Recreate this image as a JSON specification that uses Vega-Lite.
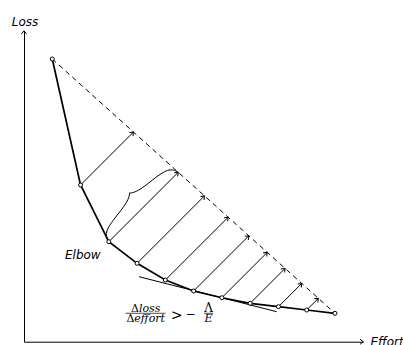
{
  "$schema": "https://vega.github.io/schema/vega-lite/v6.json",
  "width": 339.24,
  "height": 310.97,
  "autosize": {"type": "none"},
  "padding": {"left": 24, "top": 30.73, "right": 39.76, "bottom": 3.3},
  "background": "white",
  "config": {"view": {"stroke": null}},
  "datasets": {
    "curve": [
      {"effort": 1, "loss": 10},
      {"effort": 2, "loss": 5.543},
      {"effort": 3, "loss": 3.537},
      {"effort": 4, "loss": 2.773},
      {"effort": 5, "loss": 2.182},
      {"effort": 6, "loss": 1.793},
      {"effort": 7, "loss": 1.556},
      {"effort": 8, "loss": 1.358},
      {"effort": 9, "loss": 1.238},
      {"effort": 10, "loss": 1.121},
      {"effort": 11, "loss": 1.005}
    ],
    "arrows": [
      {"effort": 2, "loss": 5.543, "tipEffort": 3.872, "tipLoss": 7.415},
      {"effort": 3, "loss": 3.537, "tipEffort": 5.454, "tipLoss": 5.991},
      {"effort": 4, "loss": 2.773, "tipEffort": 6.383, "tipLoss": 5.156},
      {"effort": 5, "loss": 2.182, "tipEffort": 7.22, "tipLoss": 4.402},
      {"effort": 6, "loss": 1.793, "tipEffort": 7.951, "tipLoss": 3.744},
      {"effort": 7, "loss": 1.556, "tipEffort": 8.602, "tipLoss": 3.158},
      {"effort": 8, "loss": 1.358, "tipEffort": 9.233, "tipLoss": 2.591},
      {"effort": 9, "loss": 1.238, "tipEffort": 9.822, "tipLoss": 2.06},
      {"effort": 10, "loss": 1.121, "tipEffort": 10.41, "tipLoss": 1.531}
    ],
    "chord": [{"effort": 1, "loss": 10, "effort2": 11, "loss2": 1.005}],
    "tangent": [{"effort": 4.068, "loss": 2.299, "effort2": 8.939, "loss2": 1.061}],
    "brace": [
      {"half": "a", "i": 1, "effort": 3.0, "loss": 3.537},
      {"half": "a", "i": 2, "effort": 2.93, "loss": 3.667},
      {"half": "a", "i": 3, "effort": 2.9125, "loss": 3.8246},
      {"half": "a", "i": 4, "effort": 2.975, "loss": 4.0122},
      {"half": "a", "i": 5, "effort": 3.15, "loss": 4.2874},
      {"half": "a", "i": 6, "effort": 3.4127, "loss": 4.6251},
      {"half": "a", "i": 7, "effort": 3.5803, "loss": 4.8577},
      {"half": "a", "i": 8, "effort": 3.6703, "loss": 5.0178},
      {"half": "a", "i": 9, "effort": 3.7179, "loss": 5.1453},
      {"half": "a", "i": 10, "effort": 3.7329, "loss": 5.2204},
      {"half": "a", "i": 11, "effort": 3.7266, "loss": 5.2642},
      {"half": "b", "i": 11, "effort": 3.7266, "loss": 5.2642},
      {"half": "b", "i": 12, "effort": 3.7704, "loss": 5.2579},
      {"half": "b", "i": 13, "effort": 3.8454, "loss": 5.2729},
      {"half": "b", "i": 14, "effort": 3.973, "loss": 5.3204},
      {"half": "b", "i": 15, "effort": 4.1331, "loss": 5.4105},
      {"half": "b", "i": 16, "effort": 4.3657, "loss": 5.5781},
      {"half": "b", "i": 17, "effort": 4.7034, "loss": 5.8407},
      {"half": "b", "i": 18, "effort": 4.9785, "loss": 6.0158},
      {"half": "b", "i": 19, "effort": 5.1661, "loss": 6.0783},
      {"half": "b", "i": 20, "effort": 5.3237, "loss": 6.0608},
      {"half": "b", "i": 21, "effort": 5.454, "loss": 5.991}
    ],
    "axisEndX": [{"effort": 12, "loss": 0}],
    "axisEndY": [{"effort": 0, "loss": 11}],
    "elbow": [{"effort": 1.45, "loss": 2.915, "label": "Elbow"}],
    "deltas": [
      {"effort": 4.066, "loss": 1.068, "label": "Δ"},
      {"effort": 3.903, "loss": 0.7145, "label": "Δ"}
    ],
    "words": [
      {"effort": 4.066, "loss": 1.068, "label": "loss"},
      {"effort": 3.903, "loss": 0.7145, "label": "effort"}
    ],
    "relation": [
      {"effort": 5.394, "loss": 0.785, "label": ">"}
    ],
    "upright": [
      {"effort": 5.89, "loss": 0.856, "label": "−"},
      {"effort": 6.526, "loss": 1.068, "label": "Λ"}
    ],
    "italicE": [{"effort": 6.526, "loss": 0.7145, "label": "E"}],
    "bars": [
      {"effort": 3.59, "loss": 1.005, "effort2": 5.005},
      {"effort": 6.367, "loss": 1.005, "effort2": 6.686}
    ]
  },
  "encoding": {
    "x": {
      "field": "effort",
      "type": "quantitative",
      "scale": {"domain": [0, 12], "nice": false, "zero": false},
      "axis": {
        "title": "Effort",
        "ticks": false,
        "labels": false,
        "grid": false,
        "domainColor": "black",
        "domainWidth": 1,
        "titleX": 346,
        "titleY": 4,
        "titleAlign": "left",
        "titleBaseline": "alphabetic",
        "titleAngle": 0,
        "titleFont": "DejaVu Sans",
        "titleFontStyle": "italic",
        "titleFontWeight": "normal",
        "titleFontSize": 12,
        "titleColor": "black"
      }
    },
    "y": {
      "field": "loss",
      "type": "quantitative",
      "scale": {"domain": [0, 11], "nice": false, "zero": false},
      "axis": {
        "title": "Loss",
        "ticks": false,
        "labels": false,
        "grid": false,
        "domainColor": "black",
        "domainWidth": 1,
        "titleX": 0.5,
        "titleY": -5.7,
        "titleAlign": "center",
        "titleBaseline": "alphabetic",
        "titleAngle": 0,
        "titleFont": "DejaVu Sans",
        "titleFontStyle": "italic",
        "titleFontWeight": "normal",
        "titleFontSize": 12,
        "titleColor": "black"
      }
    }
  },
  "layer": [
    {
      "data": {"name": "chord"},
      "mark": {"type": "rule", "color": "black", "strokeWidth": 1, "strokeDash": [5, 4]},
      "encoding": {"x2": {"field": "effort2"}, "y2": {"field": "loss2"}}
    },
    {
      "data": {"name": "tangent"},
      "mark": {"type": "rule", "color": "black", "strokeWidth": 1},
      "encoding": {"x2": {"field": "effort2"}, "y2": {"field": "loss2"}}
    },
    {
      "data": {"name": "arrows"},
      "mark": {"type": "rule", "color": "black", "strokeWidth": 1},
      "encoding": {"x2": {"field": "tipEffort"}, "y2": {"field": "tipLoss"}}
    },
    {
      "data": {"name": "arrows"},
      "mark": {"type": "point", "shape": "M-1,-0.8L0,0L-1,0.8", "filled": false, "color": "black", "strokeWidth": 1, "size": 40, "angle": -45, "opacity": 1},
      "encoding": {
        "x": {"field": "tipEffort", "type": "quantitative", "scale": {"domain": [0, 12], "nice": false, "zero": false}},
        "y": {"field": "tipLoss", "type": "quantitative", "scale": {"domain": [0, 11], "nice": false, "zero": false}}
      }
    },
    {
      "data": {"name": "axisEndX"},
      "mark": {"type": "point", "shape": "M-1,-0.8L0,0L-1,0.8", "filled": false, "color": "black", "strokeWidth": 1, "size": 40, "angle": 0, "opacity": 1}
    },
    {
      "data": {"name": "axisEndY"},
      "mark": {"type": "point", "shape": "M-1,-0.8L0,0L-1,0.8", "filled": false, "color": "black", "strokeWidth": 1, "size": 40, "angle": -90, "opacity": 1}
    },
    {
      "data": {"name": "brace"},
      "mark": {"type": "line", "color": "black", "strokeWidth": 1, "interpolate": "catmull-rom"},
      "encoding": {"order": {"field": "i", "type": "quantitative"}, "detail": {"field": "half"}}
    },
    {
      "data": {"name": "curve"},
      "mark": {"type": "line", "color": "black", "strokeWidth": 1.7}
    },
    {
      "data": {"name": "curve"},
      "mark": {"type": "point", "filled": true, "fill": "white", "stroke": "black", "strokeWidth": 1, "size": 16, "opacity": 1}
    },
    {
      "data": {"name": "elbow"},
      "mark": {"type": "text", "align": "left", "baseline": "alphabetic", "font": "DejaVu Sans", "fontStyle": "italic", "fontSize": 12, "color": "black"},
      "encoding": {"text": {"field": "label"}}
    },
    {
      "data": {"name": "bars"},
      "mark": {"type": "rule", "color": "black", "strokeWidth": 0.7},
      "encoding": {"x2": {"field": "effort2"}}
    },
    {
      "data": {"name": "deltas"},
      "mark": {"type": "text", "align": "right", "baseline": "alphabetic", "font": "DejaVu Serif", "fontSize": 11, "color": "black"},
      "encoding": {"text": {"field": "label"}}
    },
    {
      "data": {"name": "words"},
      "mark": {"type": "text", "align": "left", "baseline": "alphabetic", "font": "DejaVu Serif", "fontStyle": "italic", "fontSize": 11, "color": "black"},
      "encoding": {"text": {"field": "label"}}
    },
    {
      "data": {"name": "relation"},
      "mark": {"type": "text", "align": "center", "baseline": "alphabetic", "font": "DejaVu Serif", "fontSize": 14, "color": "black"},
      "encoding": {"text": {"field": "label"}}
    },
    {
      "data": {"name": "upright"},
      "mark": {"type": "text", "align": "center", "baseline": "alphabetic", "font": "DejaVu Serif", "fontSize": 12, "color": "black"},
      "encoding": {"text": {"field": "label"}}
    },
    {
      "data": {"name": "italicE"},
      "mark": {"type": "text", "align": "center", "baseline": "alphabetic", "font": "DejaVu Serif", "fontStyle": "italic", "fontSize": 11, "color": "black"},
      "encoding": {"text": {"field": "label"}}
    }
  ]
}
